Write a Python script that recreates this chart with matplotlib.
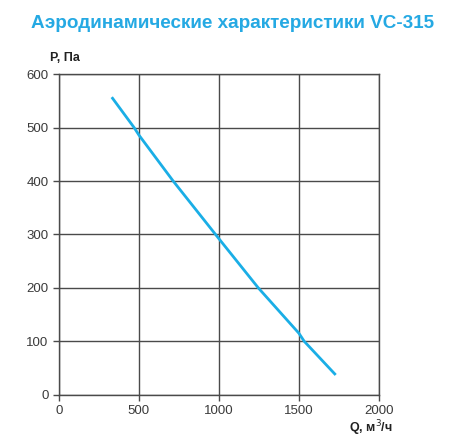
import matplotlib
matplotlib.use("Agg")
import matplotlib.pyplot as plt

plt.rcParams['font.family'] = ['Liberation Sans', 'DejaVu Sans']

# кривая вентилятора VC-315
q = [330, 470, 500, 714, 1000, 1246, 1500, 1533, 1730]
p = [557, 500, 486, 400, 292, 200, 115, 100, 37]

x_ticks = [0, 500, 1000, 1500, 2000]
y_ticks = [0, 100, 200, 300, 400, 500, 600]

fig = plt.figure(figsize=(4.5, 4.47), dpi=100)
ax = fig.add_axes([0.131, 0.117, 0.711, 0.717])

ax.plot(q, p, color="#1aaee6", lw=2.0, solid_capstyle="butt", zorder=3)

ax.set_xlim(0, 2000)
ax.set_ylim(0, 600)
ax.set_xticks(x_ticks)
ax.set_yticks(y_ticks)
ax.grid(True, color="#4a4a4a", lw=1.0)
for s in ax.spines.values():
    s.set_color("#4a4a4a")
    s.set_linewidth(1.0)
ax.tick_params(colors="#4a4a4a", labelcolor="#3a3a3a", labelsize=9.5, length=4, width=1)

fig.text(0.517, 0.947, "Аэродинамические характеристики VC-315", color="#25a9e3",
         fontsize=13.6, fontweight="bold", ha="center", va="center")
fig.text(0.112, 0.870, "P, Па", fontsize=9, fontweight="bold", color="#222222", va="center")
fig.text(0.776, 0.043, "Q, м$^3$/ч", fontsize=9, fontweight="bold", color="#222222", va="center")

fig.savefig("out.png", dpi=100)
